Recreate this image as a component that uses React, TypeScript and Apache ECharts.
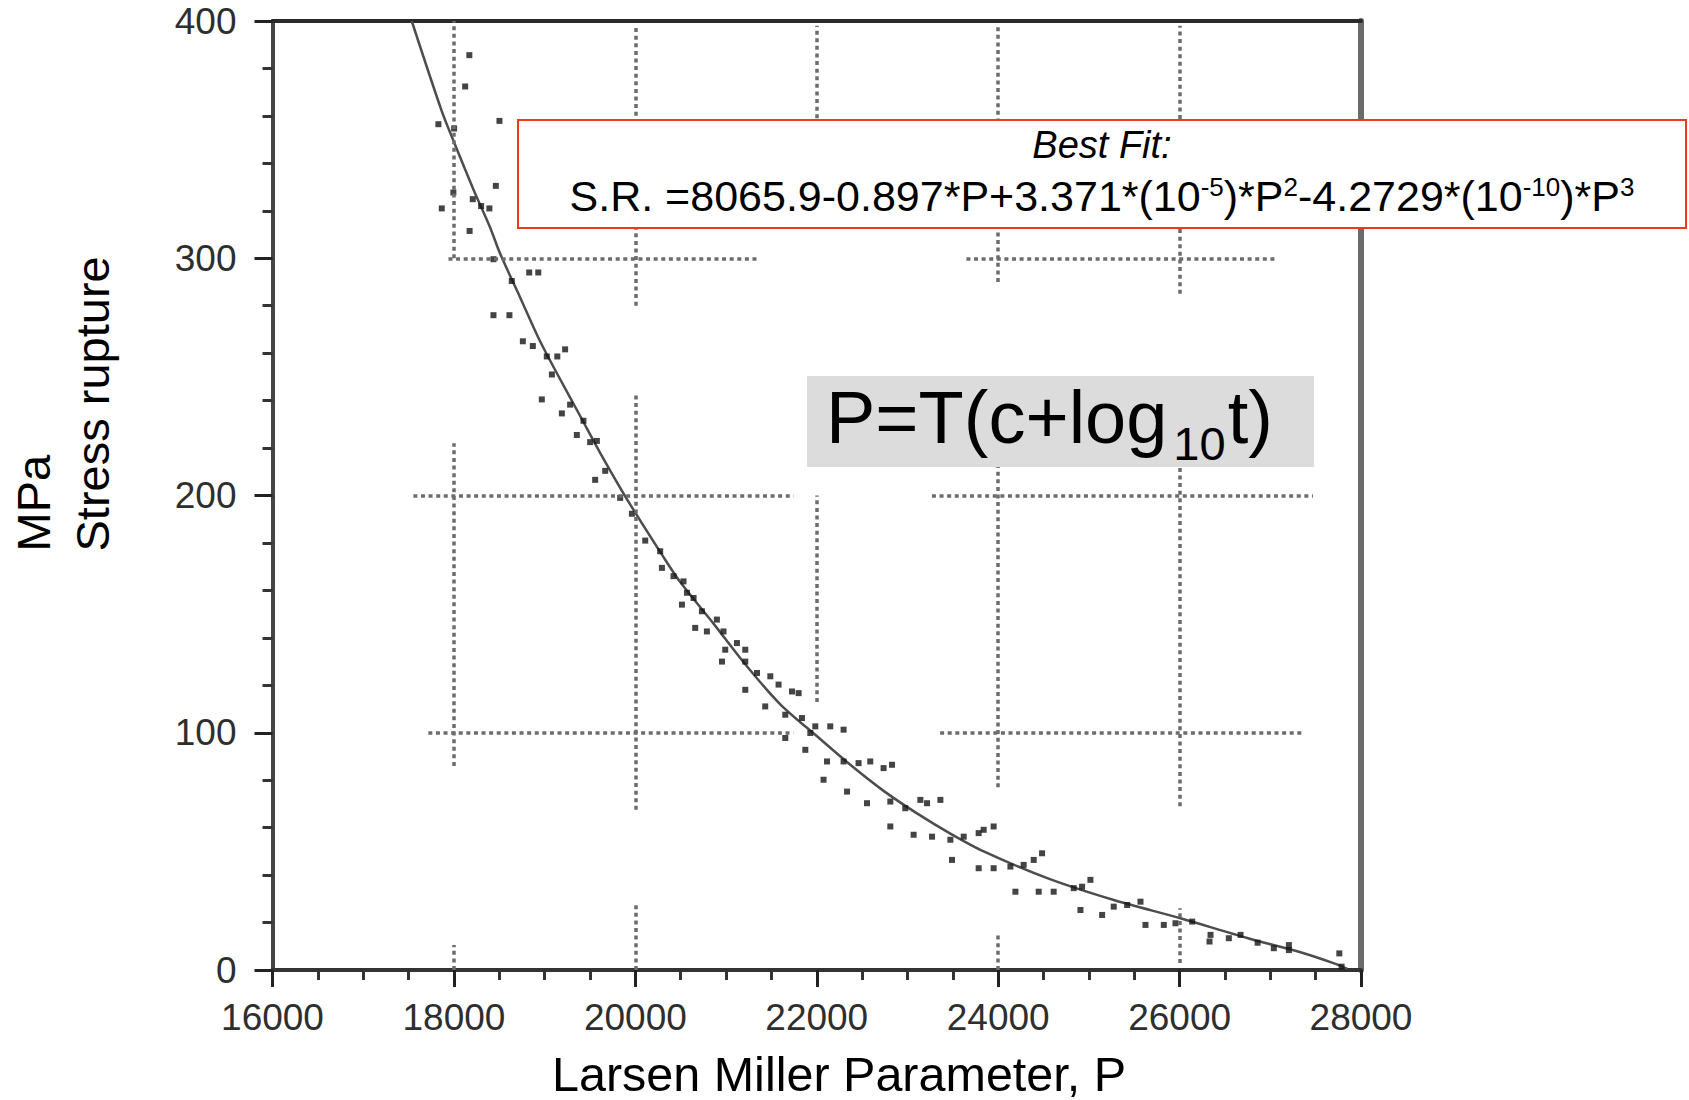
import React, { useEffect, useRef } from "react";
import * as echarts from "echarts";

// ---- data ----
const xMin = 16000;
const xMax = 28000;
const xStep = 2000;
const yMin = 0;
const yMax = 400;
const yStep = 100;

// best-fit curve (P, stress)
const fitP = [17535, 17866, 17995, 18215, 18399, 18509, 18730, 18950, 19171, 19392, 19612, 19907, 20311, 20495, 20862, 21230, 21598, 22003, 22370, 22737, 23105, 23473, 23840, 24556, 25274, 26010, 26745, 27333, 27727, 27850];
const fitS = [400, 362, 349.5, 329, 313, 302, 283.5, 265, 249, 233.5, 218, 198.5, 174, 163.5, 146, 128, 112, 98.5, 86.5, 75.5, 66, 57.5, 50, 38.5, 29.5, 21.8, 13.5, 7.5, 2.5, 0.5];

// measured stress rupture points (P, stress)
const testP = [17829, 17866, 17994, 18002, 18124, 18170, 18173, 18208, 18300, 18391, 18462, 18502, 18436, 18638, 18830, 18930, 18436, 18612, 18760, 18870, 19226, 19024, 19140, 19080, 18969, 19281, 19190, 19428, 19355, 19502, 19576, 19668, 19557, 19833, 19962, 20109, 20274, 20293, 20421, 20531, 20569, 20514, 20642, 20734, 20899, 20660, 20789, 20972, 21120, 20991, 21212, 20955, 21212, 21341, 21488, 21579, 21727, 21800, 21212, 21432, 21653, 21653, 21837, 21984, 22149, 22296, 21929, 21874, 22113, 22296, 22461, 22590, 22737, 22830, 22075, 22334, 22554, 22811, 22976, 23142, 23216, 23363, 22811, 23068, 23271, 23473, 23620, 23785, 23840, 23950, 23491, 23785, 23950, 24135, 24281, 24392, 24484, 24190, 24447, 24612, 24833, 24925, 25017, 24907, 25146, 25274, 25422, 25569, 25624, 25826, 25955, 26139, 26341, 26330, 26543, 26672, 26860, 27039, 27205, 27205, 27761, 27786];
const testS = [356.5, 321, 327.7, 354.7, 372.4, 385.6, 311.5, 324.9, 322, 321, 330.5, 357.9, 299.6, 290.4, 294, 294, 276, 276, 265, 263, 261.6, 258.6, 258.6, 251, 240.5, 238.3, 234.6, 231.5, 225.5, 222.5, 223, 210.4, 206.6, 199, 192.3, 181, 176.5, 169.5, 166, 163.8, 159, 154, 156.8, 151.2, 147.7, 144.2, 142.7, 142.7, 137.8, 135, 135, 130, 130, 125.2, 123.8, 120.3, 117.4, 116.7, 118.1, 111.1, 107.6, 97.8, 106.2, 102.7, 102.7, 101.3, 99.9, 92.8, 87.9, 87.9, 87.2, 87.9, 85.1, 86.5, 80.2, 75.2, 70.3, 71, 68.2, 71.7, 70.3, 71.7, 60.5, 57, 56.2, 54.9, 56.2, 57.7, 59.1, 60.5, 46.4, 42.9, 42.9, 43.6, 44.3, 46.4, 49.2, 33, 33, 33, 34.5, 35.1, 38, 25.3, 23.2, 26.7, 27.4, 28.8, 19, 19, 19.7, 20.4, 14.8, 12, 13.4, 14.8, 11.5, 9.2, 10.5, 8.4, 7, 1.4];

// partial dotted grid lines: [fixed value, from, to]
const gridVertical = [
  [18000, 300, 400], [18000, 86, 222], [18000, 0, 10.5],
  [20000, 280, 398], [20000, 67.5, 243.5], [20000, 0, 28],
  [22000, 359, 398], [22000, 113, 200],
  [24000, 290, 398], [24000, 77, 212], [24000, 0, 15],
  [26000, 285, 398], [26000, 69, 212], [26000, 3, 26],
];
const gridHorizontal = [
  [300, 17940, 21360], [300, 23650, 27080],
  [200, 17553, 21745], [200, 23270, 27470],
  [100, 17718, 21742], [100, 23360, 27380],
];

const xTitle = "Larsen Miller Parameter, P";
const yTitleUnit = "MPa";
const yTitle = "Stress rupture";
const fitTitle = "Best Fit:";
const fitFormula = "{m|S.R. =8065.9-0.897*P+3.371*(10}{s|-5}{m|)*P}{s|2}{m|-4.2729*(10}{s|-10}{m|)*P}{s|3}";
const lmpMain = "P=T(c+log";
const lmpSub = "10";
const lmpEnd = "t)";

const FONT = "'Liberation Sans', Arial, Helvetica, sans-serif";

export default function App() {
  const ref = useRef<HTMLDivElement>(null);

  useEffect(() => {
    if (!ref.current) return;
    const chart = echarts.init(ref.current, null, { renderer: "svg" });

    const curve = fitP.map((p, i) => [p, fitS[i]]);
    const points = testP.map((p, i) => [p, testS[i]]);
    const segs: any[] = [];
    gridVertical.forEach(([x, a, b]) => segs.push([{ coord: [x, a] }, { coord: [x, b] }]));
    gridHorizontal.forEach(([y, a, b]) => segs.push([{ coord: [a, y] }, { coord: [b, y] }]));

    // layout of the P=T(c+log10 t) annotation
    const mainSize = 74;
    const subSize = 47;
    const lmpX = 826;
    const wMain = 4.613 * mainSize;
    const wSub = 1.112 * subSize;

    const option: any = {
      animation: false,
      backgroundColor: "#ffffff",
      grid: { left: 272.5, top: 21, width: 1088.5, height: 949, containLabel: false },
      xAxis: [
        {
          type: "value",
          min: xMin,
          max: xMax,
          interval: xStep,
          axisLine: { show: true, onZero: false, lineStyle: { color: "#333", width: 4 } },
          axisTick: { show: true, length: 17, lineStyle: { color: "#222", width: 3 } },
          minorTick: { show: true, splitNumber: 4, length: 10, lineStyle: { color: "#333", width: 3 } },
          splitLine: { show: false },
          minorSplitLine: { show: false },
          axisLabel: {
            fontSize: 37,
            color: "#2e2e2e",
            fontFamily: FONT,
            margin: 29,
            formatter: (v: number) => String(v),
          },
        },
        {
          type: "value",
          position: "top",
          min: xMin,
          max: xMax,
          axisLine: { show: true, onZero: false, lineStyle: { color: "#2a2a2a", width: 4 } },
          axisTick: { show: false },
          axisLabel: { show: false },
          splitLine: { show: false },
        },
      ],
      yAxis: [
        {
          type: "value",
          min: yMin,
          max: yMax,
          interval: yStep,
          axisLine: { show: true, onZero: false, lineStyle: { color: "#454545", width: 4 } },
          axisTick: { show: true, length: 18, lineStyle: { color: "#222", width: 3 } },
          minorTick: { show: true, splitNumber: 5, length: 10, lineStyle: { color: "#333", width: 3 } },
          splitLine: { show: false },
          minorSplitLine: { show: false },
          axisLabel: { fontSize: 37, color: "#2e2e2e", fontFamily: FONT, margin: 36 },
        },
        {
          type: "value",
          position: "right",
          min: yMin,
          max: yMax,
          axisLine: { show: true, onZero: false, lineStyle: { color: "#6b6b6b", width: 6 } },
          axisTick: { show: false },
          axisLabel: { show: false },
          splitLine: { show: false },
        },
      ],
      series: [
        {
          type: "line",
          data: curve,
          smooth: 0.3,
          symbol: "none",
          lineStyle: { color: "#4d4d4d", width: 2.5 },
          z: 2,
          markLine: {
            silent: true,
            symbol: ["none", "none"],
            label: { show: false },
            emphasis: { disabled: true },
            lineStyle: { color: "#6c6c6c", width: 3.5, type: [4, 3.6] },
            data: segs,
          },
        },
        {
          type: "scatter",
          data: points,
          symbol: "rect",
          symbolSize: 6,
          itemStyle: { color: "#151515" },
          z: 3,
        },
      ],
      graphic: [
        {
          type: "rect",
          z: 100,
          shape: { x: 518, y: 120, width: 1168, height: 108 },
          style: { fill: "#ffffff", stroke: "#ee3a1c", lineWidth: 2 },
        },
        {
          type: "text",
          z: 101,
          x: 1102,
          y: 145,
          style: {
            text: fitTitle,
            fontSize: 38,
            fontStyle: "italic",
            fontFamily: FONT,
            fill: "#000",
            align: "center",
            verticalAlign: "middle",
          },
        },
        {
          type: "text",
          z: 101,
          x: 1102,
          y: 174,
          style: {
            text: fitFormula,
            fontFamily: FONT,
            fill: "#000",
            align: "center",
            verticalAlign: "top",
            rich: {
              m: { fontSize: 43, lineHeight: 43, verticalAlign: "top", fontFamily: FONT, fill: "#000" },
              s: { fontSize: 26, lineHeight: 22, verticalAlign: "top", fontFamily: FONT, fill: "#000" },
            },
          },
        },
        {
          type: "rect",
          z: 100,
          shape: { x: 807, y: 376, width: 507, height: 91 },
          style: { fill: "#dcdcdc" },
        },
        {
          type: "text",
          z: 101,
          x: lmpX,
          y: 442.7 - 0.3465 * mainSize,
          style: { text: lmpMain, fontSize: mainSize, fontFamily: FONT, fill: "#000", align: "left", verticalAlign: "middle" },
        },
        {
          type: "text",
          z: 101,
          x: lmpX + wMain + 6,
          y: 460 - 0.3465 * subSize,
          style: { text: lmpSub, fontSize: subSize, fontFamily: FONT, fill: "#000", align: "left", verticalAlign: "middle" },
        },
        {
          type: "text",
          z: 101,
          x: lmpX + wMain + wSub + 8,
          y: 442.7 - 0.3465 * mainSize,
          style: { text: lmpEnd, fontSize: mainSize, fontFamily: FONT, fill: "#000", align: "left", verticalAlign: "middle" },
        },
        {
          type: "text",
          z: 101,
          x: 839,
          y: 1074,
          style: { text: xTitle, fontSize: 48.5, fontFamily: FONT, fill: "#000", align: "center", verticalAlign: "middle" },
        },
        {
          type: "text",
          z: 101,
          x: 92.5,
          y: 551.5,
          rotation: Math.PI / 2,
          style: { text: yTitle, fontSize: 47, fontFamily: FONT, fill: "#000", align: "left", verticalAlign: "middle" },
        },
        {
          type: "text",
          z: 101,
          x: 33.5,
          y: 551.5,
          rotation: Math.PI / 2,
          style: { text: yTitleUnit, fontSize: 47, fontFamily: FONT, fill: "#000", align: "left", verticalAlign: "middle" },
        },
      ],
    };

    chart.setOption(option);
    return () => chart.dispose();
  }, []);

  return (
    <div
      ref={ref}
      style={{ position: "fixed", left: 0, top: 0, width: "1689px", height: "1100px", background: "#fff" }}
    />
  );
}
